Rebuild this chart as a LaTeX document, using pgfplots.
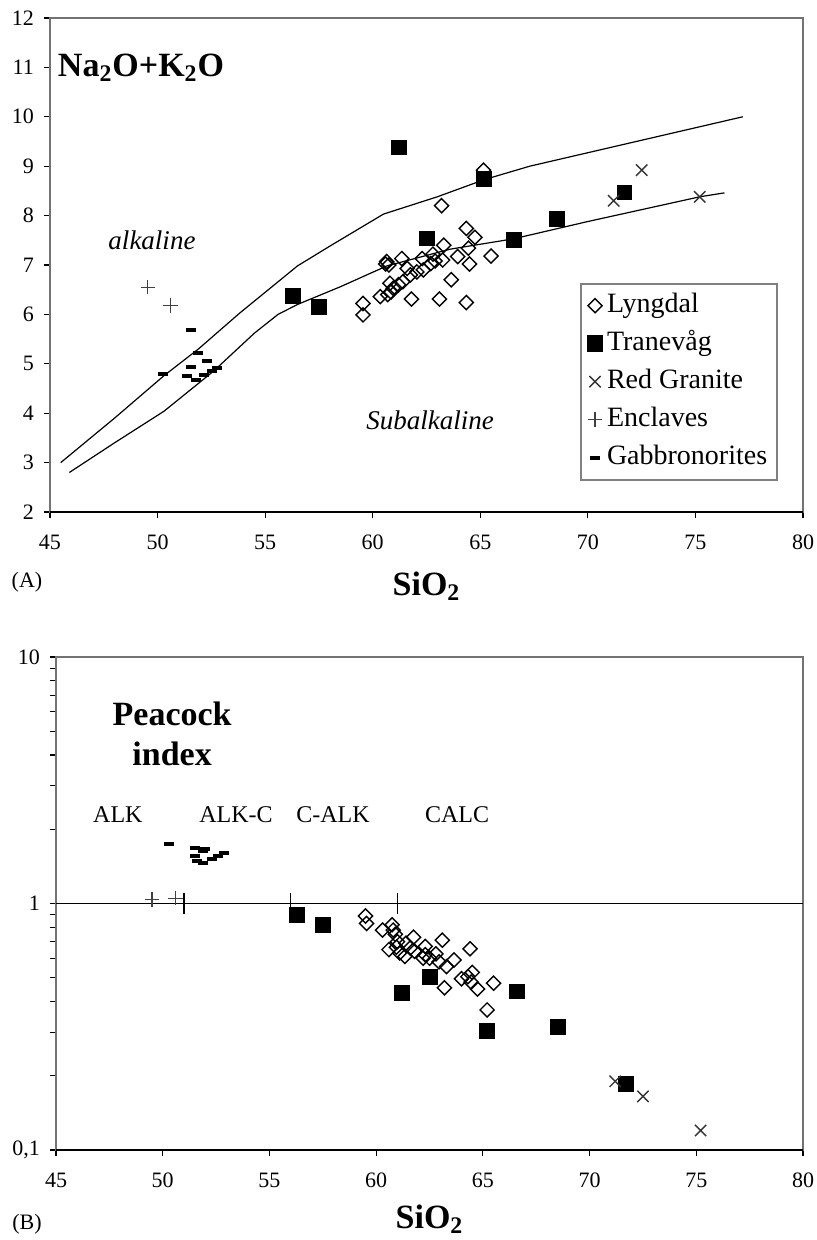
\documentclass[border=0pt]{standalone}
\usepackage{pgfplots}
\usepackage{pgfplotstable}
\pgfplotsset{compat=1.18}
\usepackage{fontspec}
\setmainfont{Liberation Serif}

% ---------- (A) Na2O+K2O vs SiO2 ----------
\pgfplotstableread{
x y
65.15 8.92
63.2 8.20
64.35 7.74
64.75 7.56
63.3 7.40
64.45 7.34
65.5 7.18
63.95 7.17
64.5 7.02
63.25 7.10
62.8 7.22
62.3 7.13
61.35 7.13
60.65 7.07
60.75 7.00
61.6 6.93
61.75 6.80
62.05 6.86
62.35 6.90
62.7 7.03
63.65 6.70
60.8 6.63
60.95 6.53
61.2 6.60
61.4 6.66
60.85 6.45
60.7 6.40
60.35 6.36
59.55 6.22
59.55 5.99
61.8 6.31
63.1 6.31
64.35 6.24
62.9 7.08
60.6 7.02
}\lynA
\pgfplotstableread{
x y
56.3 6.38
57.5 6.15
61.2 9.38
62.5 7.54
65.15 8.75
66.55 7.51
68.55 7.93
71.7 8.47
}\traA
\pgfplotstableread{
x y
71.2 8.30
72.5 8.92
75.2 8.38
}\redA
\pgfplotstableread{
x y
49.55 6.55
50.6 6.18
}\encA
\pgfplotstableread{
x y
50.27 4.79
51.54 5.68
51.9 5.21
52.31 5.06
51.54 4.94
51.36 4.75
51.79 4.67
52.16 4.77
52.52 4.85
52.78 4.91
}\gabA
% alkaline / subalkaline dividing lines
\pgfplotstableread{
x y
45.5 3.00
48.0 3.90
50.3 4.76
51.9 5.30
53.8 6.02
56.5 6.98
58.0 7.38
60.5 8.03
63.0 8.38
65.2 8.73
67.3 9.00
77.2 10.00
}\upperline
\pgfplotstableread{
x y
45.9 2.80
48.0 3.40
50.3 4.04
52.6 4.85
54.5 5.62
55.6 6.00
56.5 6.20
58.5 6.56
60.65 6.98
63.6 7.32
66.55 7.53
70.0 7.88
75.2 8.38
76.35 8.46
}\lowerline

% ---------- (B) Peacock index vs SiO2 ----------
\pgfplotstableread{
x y
59.5 0.89
59.55 0.83
60.3 0.78
60.75 0.82
60.8 0.78
60.9 0.75
61.0 0.70
61.75 0.73
63.1 0.71
64.4 0.655
60.6 0.65
60.95 0.665
61.4 0.69
62.3 0.67
61.35 0.61
61.8 0.64
62.3 0.62
62.8 0.625
62.2 0.60
63.65 0.59
63.3 0.555
62.95 0.58
64.5 0.525
64.0 0.495
64.3 0.505
64.45 0.48
64.75 0.45
63.2 0.455
65.5 0.475
65.2 0.37
61.1 0.63
61.6 0.66
62.5 0.60
}\lynB
\pgfplotstableread{
x y
56.3 0.90
57.5 0.82
61.2 0.435
62.5 0.505
65.2 0.305
66.6 0.44
68.5 0.315
71.7 0.185
}\traB
\pgfplotstableread{
x y
71.2 0.19
72.5 0.165
75.2 0.12
}\redB
\pgfplotstableread{
x y
49.5 1.04
50.6 1.05
}\encB
\pgfplotstableread{
x y
50.3 1.75
51.5 1.68
52.0 1.66
51.9 1.64
51.5 1.56
51.6 1.49
51.9 1.46
52.3 1.51
52.6 1.56
52.85 1.60
}\gabB

\tikzset{panelframe/.style={black!55, line width=1pt}}

\pgfplotsset{
  panel/.style={
    scale only axis, clip=false,
    xmin=45, xmax=80, xtick={45,50,...,80},
    xtick pos=bottom, ytick pos=left,
    tick align=outside, major tick length=3pt,
    tick style={black, line width=0.6pt},
    axis line style={draw=none},
    tick label style={font=\fontsize{11}{12}\selectfont},
    xticklabel style={yshift=-5pt},
    yticklabel style={xshift=-1.5pt},
    /pgf/number format/assume math mode=true,
  },
  lyn/.style={only marks, mark=square, mark size=2.5pt,
    mark options={rotate=45, draw=black, line width=0.7pt, fill=none}},
  tra/.style={only marks, mark=square*, mark size=3.7pt,
    mark options={draw=black, fill=black}},
  red/.style={only marks, mark=x, mark size=4pt,
    mark options={draw=black!80, line width=0.7pt}},
  enc/.style={only marks, mark=+, mark size=3.6pt,
    mark options={draw=black!75, line width=0.6pt}},
  gab/.style={only marks, mark=-, mark size=2.5pt,
    mark options={draw=black, line width=2pt}},
}

\begin{document}
\begin{tikzpicture}
\useasboundingbox (0,0) rectangle (408pt,620pt);

% ----- panel A -----
\begin{axis}[panel,
  at={(25pt,364pt)}, anchor=south west,
  width=376.5pt, height=247pt,
  ymin=2, ymax=12, ytick={2,3,...,12},
  legend style={at={(axis cs:69.64,6.64)}, anchor=north west,
    draw=black!50, line width=0.9pt,
    font=\fontsize{14}{16}\selectfont,
    inner xsep=3pt, inner ysep=2.5pt, row sep=2pt, column sep=0pt,
    nodes={inner sep=2pt, text height=10pt, text depth=3pt}},
  legend cell align=left,
  legend image code/.code={%
    \path[draw=none, fill=none] (0pt,0pt) -- (8pt,0pt);
    \draw[#1] plot coordinates {(4pt,0pt)};},
]
\draw[panelframe] (rel axis cs:0,0) rectangle (rel axis cs:1,1);
\draw[black, line width=0.8pt] (rel axis cs:0,0) -- (rel axis cs:1,0);

\addplot[black, line width=0.6pt, no markers, forget plot] table {\upperline};
\addplot[black, line width=0.6pt, no markers, forget plot] table {\lowerline};

\addplot[lyn] table {\lynA};
\addplot[tra] table {\traA};
\addplot[red] table {\redA};
\addplot[enc] table {\encA};
\addplot[gab] table {\gabA};
\legend{Lyngdal, Tranevåg, Red Granite, Enclaves, Gabbronorites}

\node[font=\bfseries\fontsize{17}{20}\selectfont] at (axis cs:49.23,11.0)
  {Na\textsubscript{2}O+K\textsubscript{2}O};
\node[font=\itshape\fontsize{13.5}{16}\selectfont] at (axis cs:49.74,7.5) {alkaline};
\node[font=\itshape\fontsize{13.5}{16}\selectfont] at (axis cs:62.67,3.86) {Subalkaline};

\node[font=\bfseries\fontsize{17}{20}\selectfont] at ([yshift=-37pt]rel axis cs:0.5,0)
  {SiO\textsubscript{2}};
\node[font=\fontsize{11}{13}\selectfont] at ([xshift=-11.5pt,yshift=-35pt]rel axis cs:0,0) {(A)};
\end{axis}

% ----- panel B -----
\begin{axis}[panel,
  at={(28pt,45pt)}, anchor=south west,
  width=373.5pt, height=246.5pt,
  ymode=log, ymin=0.1, ymax=10,
  ytick={0.1,1,10}, yticklabels={{0,1},1,10},
]
\draw[panelframe] (rel axis cs:0,0) rectangle (rel axis cs:1,1);
\draw[black, line width=0.8pt] (rel axis cs:0,0) -- (rel axis cs:1,0);
\draw[black, line width=0.8pt] (axis cs:45,1) -- (axis cs:80,1);
% class boundaries ALK | ALK-C | C-ALK | CALC
\draw[black, line width=0.7pt] (axis cs:51,0.91) -- (axis cs:51,1.10);
\draw[black, line width=0.7pt] (axis cs:56,0.91) -- (axis cs:56,1.10);
\draw[black, line width=0.7pt] (axis cs:61,0.91) -- (axis cs:61,1.10);

\addplot[lyn] table {\lynB};
\addplot[tra] table {\traB};
\addplot[red] table {\redB};
\addplot[enc] table {\encB};
\addplot[gab] table {\gabB};

\node[font=\bfseries\fontsize{17}{20}\selectfont, align=center] at (axis cs:50.44,4.9)
  {Peacock\\index};
\node[font=\fontsize{12}{14}\selectfont] at (axis cs:47.9,2.29) {ALK};
\node[font=\fontsize{12}{14}\selectfont] at (axis cs:53.43,2.29) {ALK-C};
\node[font=\fontsize{12}{14}\selectfont] at (axis cs:57.98,2.29) {C-ALK};
\node[font=\fontsize{12}{14}\selectfont] at (axis cs:63.79,2.29) {CALC};

\node[font=\bfseries\fontsize{17}{20}\selectfont] at ([yshift=-34.5pt]rel axis cs:0.5,0)
  {SiO\textsubscript{2}};
\node[font=\fontsize{11}{13}\selectfont] at ([xshift=-14.5pt,yshift=-37pt]rel axis cs:0,0) {(B)};
\end{axis}
\end{tikzpicture}
\end{document}
